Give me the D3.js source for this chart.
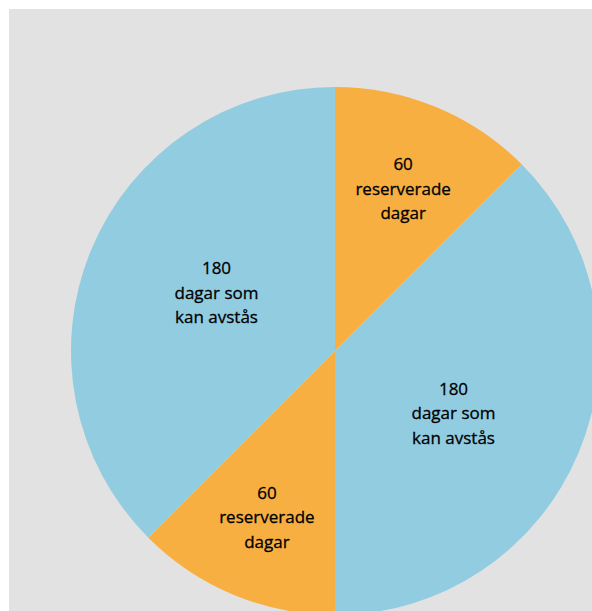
<!DOCTYPE html>
<html>
<head>
<meta charset="utf-8">
<script src="https://cdn.jsdelivr.net/npm/d3@7"></script>
<style>
  body { margin: 0; background: #fff; }
  svg text { font-family: "Open Sans", Lato, sans-serif; font-size: 17px; fill: #000; stroke: #000; stroke-width: 0.3px; }
</style>
</head>
<body>
<svg width="592" height="611"></svg>
<script>
// slices clockwise from 12 o'clock
const values = [60, 180, 60, 180];
const numbers = ["60", "180", "60", "180"];
const labels = [
    ["reserverade", "dagar"],
    ["dagar som", "kan avstås"],
    ["reserverade", "dagar"],
    ["dagar som", "kan avstås"]
];
const colors = ["#f8af42", "#92cce0", "#f8af42", "#92cce0"];

const svg = d3.select("svg");

// grå bakgrund
svg.append("rect")
    .attr("x", 9).attr("y", 9)
    .attr("width", 592).attr("height", 611)
    .attr("fill", "#e2e2e2");

const cx = 335, cy = 351, r = 264;
const g = svg.append("g").attr("transform", `translate(${cx},${cy})`);

const pie = d3.pie().sort(null).value(d => d.value);
const data = values.map((v, i) => ({ value: v, num: numbers[i], lines: labels[i], color: colors[i] }));
const arcs = pie(data);

const arc = d3.arc().innerRadius(0).outerRadius(r);

g.selectAll("path.slice")
    .data(arcs)
    .enter()
    .append("path")
    .attr("class", "slice")
    .attr("d", arc)
    .attr("fill", d => d.data.color);

// etiketter - små sektorer längre ut, stora lite vridna
const labelPos = d => {
    const small = d.data.value < 100;
    const lr = small ? 178 : 133;
    const a = (d.startAngle + d.endAngle) / 2 + (small ? 0 : 4.5 * Math.PI / 180);
    return [lr * Math.sin(a), -lr * Math.cos(a)];
};

const lbl = g.selectAll("text.lbl")
    .data(arcs)
    .enter()
    .append("text")
    .attr("class", "lbl")
    .attr("text-anchor", "middle")
    .attr("transform", d => `translate(${labelPos(d)})`);

lbl.each(function (d) {
    const t = d3.select(this);
    const rows = [d.data.num].concat(d.data.lines);
    rows.forEach((s, i) => {
        t.append("tspan")
            .attr("x", 0)
            .attr("y", (i - 1) * 24.5 + 8)
            .text(s);
    });
});
</script>
</body>
</html>
